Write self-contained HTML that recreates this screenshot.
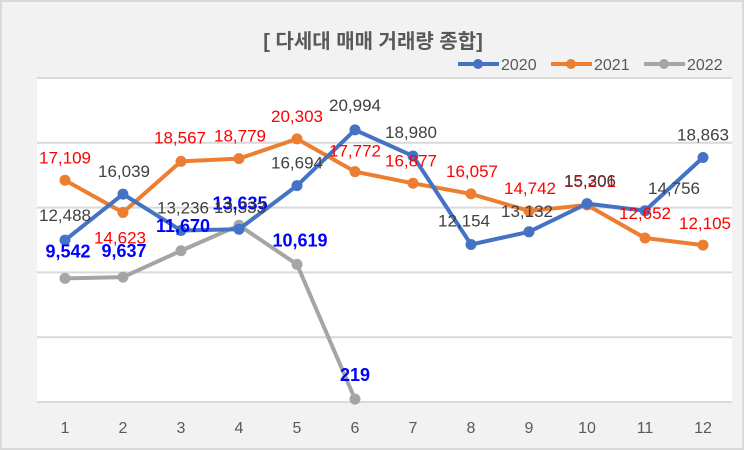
<!DOCTYPE html>
<html><head><meta charset="utf-8"><style>
body{margin:0;background:#fff}
svg{display:block;font-family:"Liberation Sans","Noto Sans CJK KR",sans-serif}
</style></head><body>
<svg width="746" height="452">
<rect x="1" y="1" width="742" height="448" fill="#f2f2f2" stroke="#d9d9d9" stroke-width="2"/>
<rect x="37" y="78" width="695" height="324" fill="#fff"/>
<text x="373" y="48" text-anchor="middle" font-size="20" font-weight="bold" fill="#595959" font-family="'Liberation Sans','Noto Sans CJK KR',sans-serif">[ 다세대 매매 거래량 종합]</text>
<g id="grid"></g><g id="xt"></g><g id="series"></g><g id="labels"></g><g id="legend"></g>
</svg>
<script>
const months=[1,2,3,4,5,6,7,8,9,10,11,12];
const s2020=[12488,16039,13236,13333,16694,20994,18980,12154,13132,15306,14756,18863];
const s2021=[17109,14623,18567,18779,20303,17772,16877,16057,14742,15201,12652,12105];
const s2022=[9542,9637,11670,13635,10619,219];
const yTicks=[0,5000,10000,15000,20000,25000];
const off2020=[[0,-25],[1,-23],[2,-23],[1,-22],[0,-23],[0,-25],[-2,-24],[-7,-24],[-2,-21],[3,-23],[29,-23],[0,-23]];
const off2021=[[0,-23],[-3,25],[-1,-24],[1,-23],[0,-23],[0,-21],[-2,-23],[1,-23],[1,-23],[3,-24],[0,-25],[2,-22]];
const off2022=[[3,-27],[1,-26],[2,-25],[1,-22],[3,-24],[0,-24]];
const NS="http://www.w3.org/2000/svg";
const X=m=>65+(m-1)*58, Y=v=>402-v*324/25000;
function mk(t,a,p){const e=document.createElementNS(NS,t);for(const k in a)e.setAttribute(k,a[k]);document.getElementById(p).appendChild(e);return e;}
yTicks.forEach(t=>{const l=mk('line',{x1:37,x2:732,y1:Y(t),y2:Y(t),stroke:'#d9d9d9','stroke-width':2},'grid');

});
months.forEach(m=>{const t=mk('text',{x:X(m),y:433,'text-anchor':'middle','font-size':16,fill:'#595959'},'xt');t.textContent=m;

});
function series(data,color,name,offs,lc,bold){
 const pts=data.map((v,i)=>X(months[i])+','+Y(v)).join(' ');
 const pl=mk('polyline',{points:pts,fill:'none',stroke:color,'stroke-width':4,'stroke-linejoin':'round'},'series');
 
 
 data.forEach((v,i)=>{const c=mk('circle',{cx:X(months[i]),cy:Y(v),r:5.5,fill:color},'series');
 
 
 const t=mk('text',{x:X(months[i])+offs[i][0],y:Y(v)+offs[i][1]+6,'text-anchor':'middle','font-size':bold?18:17,'font-weight':bold?'bold':'normal',fill:lc},'labels');
 t.textContent=v.toLocaleString('en-US');
 
 });
}
series(s2022,'#a5a5a5','2022',off2022,'#0000ff',true);
series(s2021,'#ed7d31','2021',off2021,'#ff0000',false);
series(s2020,'#4472c4','2020',off2020,'#404040',false);
const lg=[['2020','#4472c4',458],['2021','#ed7d31',551],['2022','#a5a5a5',644]];
lg.forEach(([n,c,x])=>{
 const g=mk('g',{},'legend');
 
 
 const l=document.createElementNS(NS,'line');l.setAttribute('x1',x);l.setAttribute('x2',x+41);l.setAttribute('y1',64);l.setAttribute('y2',64);l.setAttribute('stroke',c);l.setAttribute('stroke-width',4);g.appendChild(l);
 const ci=document.createElementNS(NS,'circle');ci.setAttribute('cx',x+20);ci.setAttribute('cy',64);ci.setAttribute('r',5);ci.setAttribute('fill',c);g.appendChild(ci);
 const t=document.createElementNS(NS,'text');t.setAttribute('x',x+43);t.setAttribute('y',70);t.setAttribute('font-size',16);t.setAttribute('fill','#595959');t.textContent=n;g.appendChild(t);
});
</script>
</body></html>
